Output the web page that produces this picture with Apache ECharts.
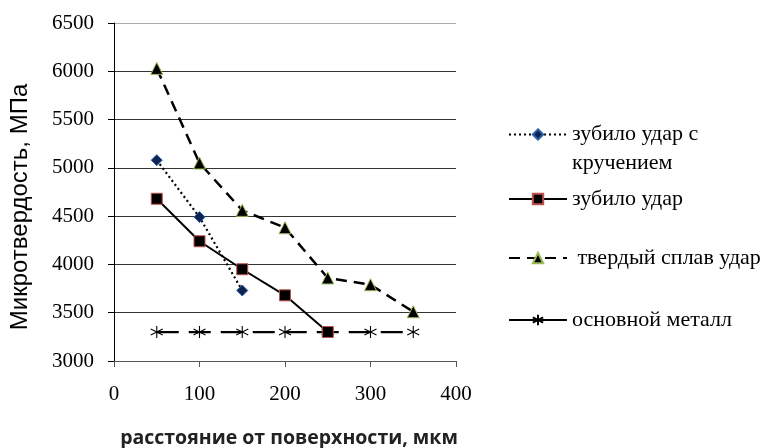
<!DOCTYPE html>
<html>
<head>
<meta charset="utf-8">
<script src="https://cdn.jsdelivr.net/npm/echarts@6/dist/echarts.min.js"></script>
<style>
  html, body { margin: 0; padding: 0; background: #fff; }
  #chart { width: 769px; height: 448px; }
</style>
</head>
<body>
<div id="chart"></div>
<script>
// Distance from the surface, µm
const distance = [50, 100, 150, 200, 250, 300, 350];

// Microhardness, MPa
const chiselTwist = [5080, 4490, 3730];
const chiselImpact = [4680, 4240, 3950, 3680, 3300];
const hardAlloyImpact = [6030, 5050, 4560, 4380, 3860, 3790, 3510];
const baseMetal = [3300, 3300, 3300, 3300, 3300, 3300, 3300];

const seriesNames = [
  'зубило удар с кручением',
  'зубило удар',
  'твердый сплав удар',
  'основной металл'
];

const yTicks = [3000, 3500, 4000, 4500, 5000, 5500, 6000, 6500];
const xTicks = [0, 100, 200, 300, 400];

const pairs = (vals) => vals.map((v, i) => [distance[i], v]);

const serif = '"Liberation Serif", "Times New Roman", serif';
const sans = '"Liberation Sans", Arial, sans-serif';
const tickFont = { fontFamily: serif, fontSize: 21, color: '#000' };
const legendFont = { fontFamily: serif, fontSize: 22, color: '#000' };

// six-spoke asterisk marker
const starPath = 'path://M0,-10L0,10M-8.66,-5L8.66,5M-8.66,5L8.66,-5';

const chart = echarts.init(document.getElementById('chart'), null, { renderer: 'canvas' });

function legendAt(name, top, extra) {
  return Object.assign({
    left: 508,
    top: top,
    padding: 0,
    orient: 'vertical',
    itemWidth: 58,
    itemHeight: 13,
    selectedMode: false,
    textStyle: legendFont,
    data: [{ name: name }]
  }, extra || {});
}

chart.setOption({
  animation: false,
  backgroundColor: '#fff',
  grid: { left: 114, right: 313, top: 23, bottom: 87, containLabel: false, outerBoundsMode: 'none' },
  xAxis: {
    type: 'value',
    min: xTicks[0],
    max: xTicks[xTicks.length - 1],
    interval: 100,
    name: 'расстояние от поверхности, мкм',
    nameLocation: 'middle',
    nameGap: 67,
    nameTextStyle: { fontFamily: '"Open Sans", sans-serif', fontWeight: 'bold', fontSize: 19.5, color: '#222', padding: [0, 0, 0, 8] },
    axisLine: { lineStyle: { color: '#555', width: 1 } },
    axisTick: { show: true, inside: false, length: 6, lineStyle: { color: '#555' } },
    axisLabel: Object.assign({ margin: 23, formatter: (v) => String(v) }, tickFont),
    splitLine: { show: false }
  },
  yAxis: {
    type: 'value',
    min: yTicks[0],
    max: yTicks[yTicks.length - 1],
    interval: 500,
    name: 'Микротвердость, МПа',
    nameLocation: 'middle',
    nameGap: 82,
    nameRotate: 90,
    nameTextStyle: { fontFamily: sans, fontSize: 24, color: '#000', padding: [0, 30, 0, 0] },
    axisLine: { show: true, lineStyle: { color: '#000', width: 1 } },
    axisTick: { show: true, inside: false, length: 6, lineStyle: { color: '#000' } },
    axisLabel: Object.assign({ margin: 20, formatter: (v) => String(v) }, tickFont),
    splitLine: {
      show: true,
      lineStyle: { color: ['#333', '#333', '#333', '#333', '#333', '#333', '#333', '#aaa'], width: 1 }
    }
  },
  legend: [
    legendAt(seriesNames[0], 91, {
      formatter: () => ' \nзубило удар с\nкручением',
      textStyle: Object.assign({ lineHeight: 29 }, legendFont)
    }),
    legendAt(seriesNames[1], 188),
    legendAt(seriesNames[2], 247, { formatter: (n) => ' ' + n }),
    legendAt(seriesNames[3], 309, {
      data: [{ name: seriesNames[3], lineStyle: { type: 'solid' } }]
    })
  ],
  series: [
    {
      name: seriesNames[0],
      type: 'line',
      data: pairs(chiselTwist),
      symbol: 'diamond',
      symbolSize: 11,
      lineStyle: { color: '#000', width: 2.2, type: [2, 3] },
      itemStyle: { color: '#0d2350', borderColor: '#2f5fa8', borderWidth: 1 },
      z: 4
    },
    {
      name: seriesNames[1],
      type: 'line',
      data: pairs(chiselImpact),
      symbol: 'rect',
      symbolSize: 11,
      lineStyle: { color: '#000', width: 2 },
      itemStyle: { color: '#000', borderColor: '#c0504d', borderWidth: 1 },
      z: 5
    },
    {
      name: seriesNames[2],
      type: 'line',
      data: pairs(hardAlloyImpact),
      symbol: 'triangle',
      symbolSize: 12,
      lineStyle: { color: '#000', width: 2.5, type: [11, 7] },
      itemStyle: { color: '#000', borderColor: '#9bbb59', borderWidth: 1 },
      z: 3
    },
    {
      name: seriesNames[3],
      type: 'line',
      data: pairs(baseMetal),
      symbol: starPath,
      symbolSize: 12,
      lineStyle: { color: '#000', width: 2.2, type: [22, 10] },
      itemStyle: { color: '#000', borderColor: '#000', borderWidth: 1.1 },
      z: 2
    }
  ]
});
</script>
</body>
</html>
